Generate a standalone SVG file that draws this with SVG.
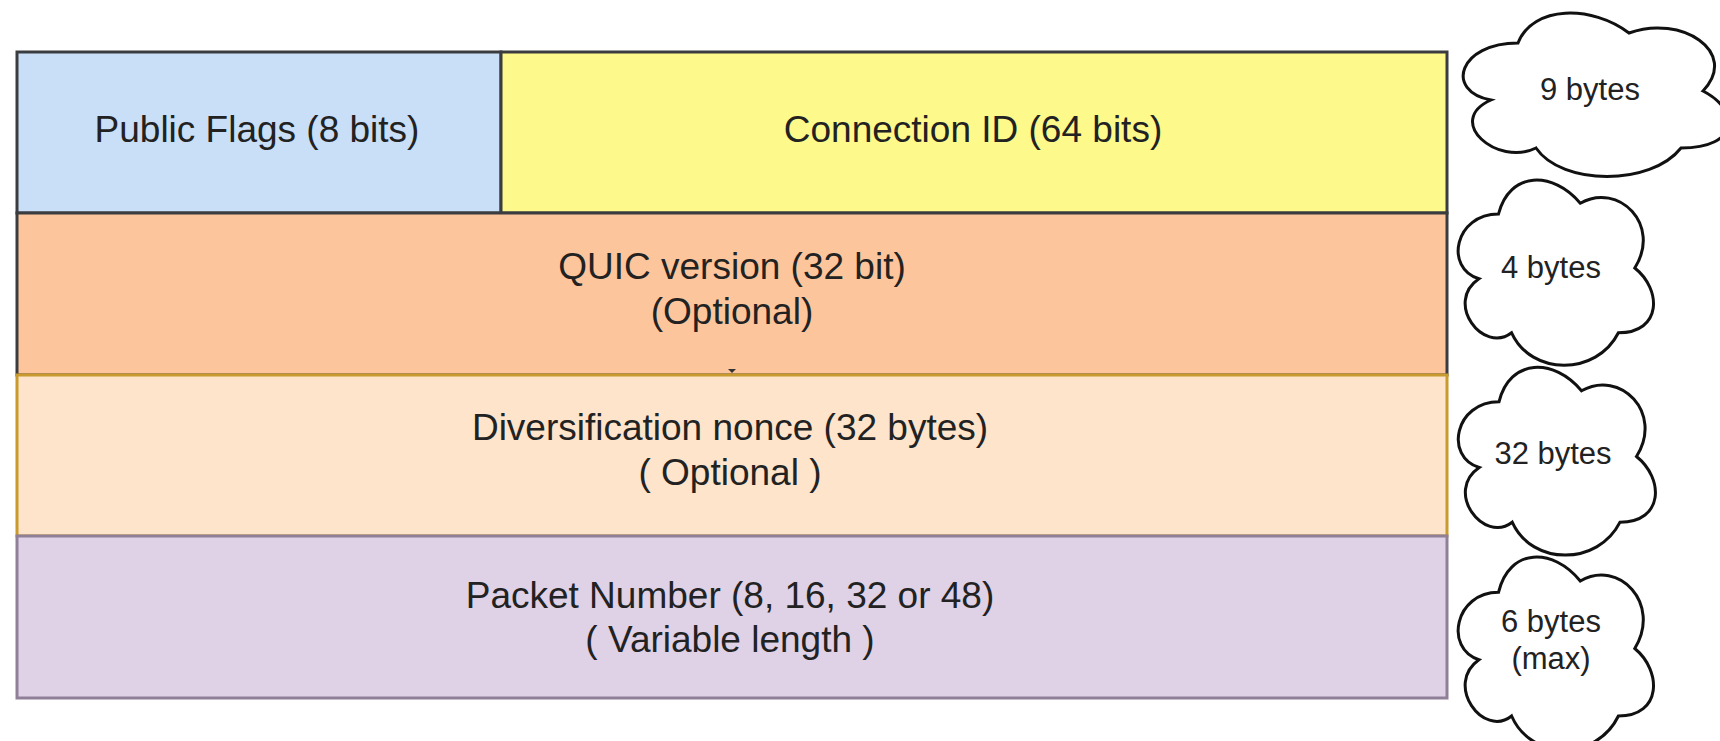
<svg xmlns="http://www.w3.org/2000/svg" width="1720" height="741" viewBox="0 0 1720 741">
<defs>
<style>
.lbl{font-family:"Liberation Sans",Arial,Helvetica,sans-serif;font-size:37px;fill:#222;text-anchor:middle}
.cl{font-family:"Liberation Sans",Arial,Helvetica,sans-serif;font-size:31px;fill:#222;text-anchor:middle}
.cloud{fill:#fff;stroke:#111;stroke-width:3}
.dark{stroke:#3a3c40;stroke-width:3}
</style>
<path id="cloudshape" d="M0.25,0.25 C0.05,0.25 0,0.5 0.16,0.55 C0,0.66 0.18,0.9 0.31,0.8 C0.4,1 0.7,1 0.8,0.8 C1,0.8 1,0.6 0.875,0.5 C1,0.3 0.8,0.1 0.625,0.2 C0.5,0.05 0.3,0.05 0.25,0.25 Z"/>
</defs>
<rect width="1720" height="741" fill="#fff"/>

<g id="public-flags">
<rect x="17" y="52" width="484" height="161" fill="#c9dff7" class="dark"/>
<text class="lbl" x="257" y="142">Public Flags (8 bits)</text>
</g>
<g id="connection-id">
<rect x="501" y="52" width="946" height="161" fill="#fdf98a" class="dark"/>
<text class="lbl" x="973" y="142">Connection ID (64 bits)</text>
</g>
<g id="quic-version">
<rect x="17" y="213" width="1430" height="162" fill="#fdc59b" class="dark"/>
<text class="lbl" x="732" y="279">QUIC version (32 bit)</text>
<text class="lbl" x="732" y="324">(Optional)</text>
<polygon points="728,369 736,369 732,373" fill="#333"/>
</g>
<g id="diversification-nonce">
<rect x="17" y="375" width="1430" height="161" fill="#fde4cb" stroke="#c99a2e" stroke-width="3"/>
<text class="lbl" x="730" y="440">Diversification nonce (32 bytes)</text>
<text class="lbl" x="730" y="485">( Optional )</text>
</g>
<g id="packet-number">
<rect x="17" y="536" width="1430" height="162" fill="#dfd1e6" stroke="#8f8098" stroke-width="3"/>
<text class="lbl" x="730" y="608">Packet Number (8, 16, 32 or 48)</text>
<text class="lbl" x="730" y="652">( Variable length )</text>
</g>

<g id="cloud-9bytes">
<path class="cloud" d="M1518,43 C1459,43 1444,91 1491,100 C1444,121 1497,167 1536,148 C1562,186 1651,186 1681,148 C1740,148 1740,110 1703,91 C1740,52 1681,14 1629,33 C1592,5 1533,5 1518,43 Z"/>
<text class="cl" x="1590" y="100">9 bytes</text>
</g>
<g id="cloud-4bytes">
<path class="cloud" d="M1498.5,214 C1454.9,214 1444,268 1478.9,278.8 C1444,302.6 1483.2,354.4 1511.6,332.8 C1531.2,376 1596.6,376 1618.4,332.8 C1662,332.8 1662,289.6 1634.8,268 C1662,224.8 1618.4,181.6 1580.3,203.2 C1553,170.8 1509.4,170.8 1498.5,214 Z"/>
<text class="cl" x="1551" y="278">4 bytes</text>
</g>
<g id="cloud-32bytes">
<path class="cloud" d="M1499,401.8 C1455,401.8 1444,456.5 1479.2,467.5 C1444,491.5 1483.6,544.2 1512.2,522.2 C1532,566 1598,566 1620,522.2 C1664,522.2 1664,478.4 1636.5,456.5 C1664,412.7 1620,368.9 1581.5,390.8 C1554,357.9 1510,357.9 1499,401.8 Z"/>
<text class="cl" x="1553" y="464">32 bytes</text>
</g>
<g id="cloud-6bytes">
<path class="cloud" d="M1498.5,592.3 C1454.9,592.3 1444,648.5 1478.9,659.8 C1444,684.5 1483.2,738.5 1511.6,716 C1531.2,761 1596.6,761 1618.4,716 C1662,716 1662,671 1634.8,648.5 C1662,603.5 1618.4,558.5 1580.3,581 C1553,547.3 1509.4,547.3 1498.5,592.3 Z"/>
<text class="cl" x="1551" y="632">6 bytes</text>
<text class="cl" x="1551" y="669">(max)</text>
</g>
</svg>
